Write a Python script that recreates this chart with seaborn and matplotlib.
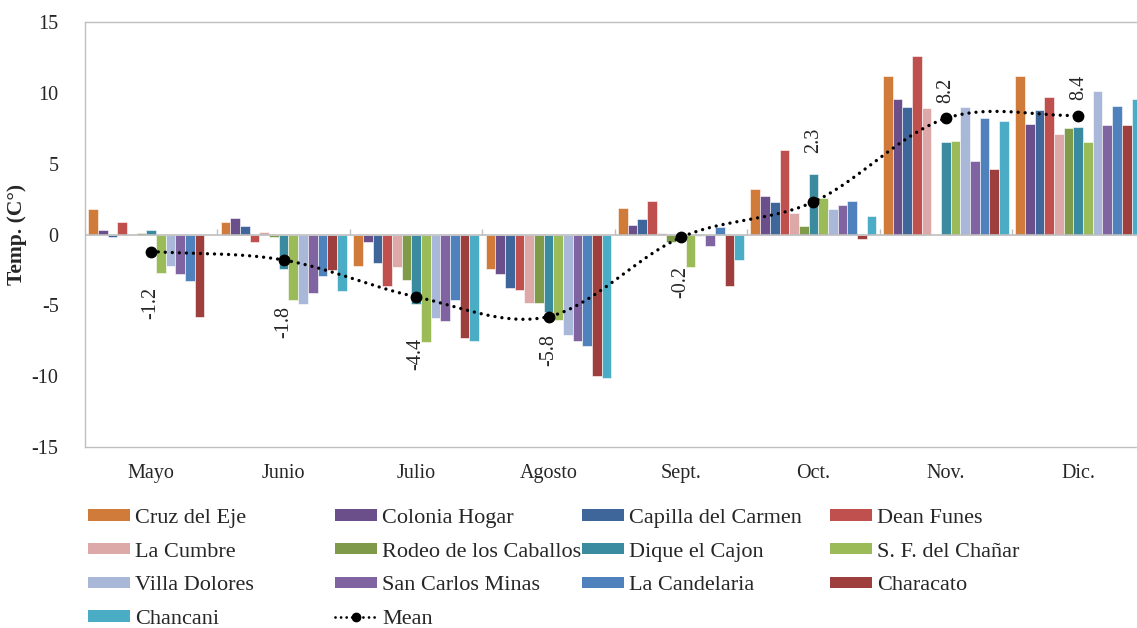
import numpy as np
import pandas as pd
import matplotlib
matplotlib.use("Agg")
import matplotlib.pyplot as plt
import seaborn as sns
from matplotlib.patches import Patch
from matplotlib.lines import Line2D

nan = np.nan

months = ["Mayo", "Junio", "Julio", "Agosto", "Sept.", "Oct.", "Nov.", "Dic."]
stations = ["Cruz del Eje", "Colonia Hogar", "Capilla del Carmen", "Dean Funes",
            "La Cumbre", "Rodeo de los Caballos", "Dique el Cajon", "S. F. del Chañar",
            "Villa Dolores", "San Carlos Minas", "La Candelaria", "Characato", "Chancani"]

cruz_del_eje = [1.8, 0.9, -2.2, -2.4, 1.9, 3.2, 11.2, 11.2]
colonia_hogar = [0.3, 1.2, -0.5, -2.8, 0.7, 2.7, 9.6, 7.8]
capilla_del_carmen = [-0.2, 0.6, -2.0, -3.8, 1.1, 2.3, 9.0, 8.8]
dean_funes = [0.9, -0.5, -3.6, -3.9, 2.4, 6.0, 12.6, 9.7]
la_cumbre = [-0.05, 0.2, -2.3, -4.8, 0.1, 1.5, 8.9, 7.1]
rodeo_de_los_caballos = [0.1, -0.2, -3.2, -4.8, -0.5, 0.6, nan, 7.5]
dique_el_cajon = [0.3, -2.4, -4.9, -5.5, -0.2, 4.3, 6.5, 7.6]
sf_del_chanar = [-2.7, -4.6, -7.6, -6.0, -2.3, 2.6, 6.6, 6.5]
villa_dolores = [-2.2, -4.9, -5.9, -7.1, -0.1, 1.8, 9.0, 10.1]
san_carlos_minas = [-2.8, -4.1, -6.1, -7.5, -0.8, 2.1, 5.2, 7.7]
la_candelaria = [-3.3, -2.9, -4.6, -7.9, 0.5, 2.4, 8.2, 9.1]
characato = [-5.8, -2.5, -7.3, -10.0, -3.6, -0.3, 4.6, 7.7]
chancani = [nan, -4.0, -7.5, -10.1, -1.8, 1.3, 8.0, 9.6]

mean_values = [-1.2, -1.8, -4.4, -5.8, -0.2, 2.3, 8.2, 8.4]

series = [cruz_del_eje, colonia_hogar, capilla_del_carmen, dean_funes, la_cumbre,
          rodeo_de_los_caballos, dique_el_cajon, sf_del_chanar, villa_dolores,
          san_carlos_minas, la_candelaria, characato, chancani]

colors = ["#D07B39", "#6A4F8A", "#3F669A", "#C0504D", "#DDA9A8", "#7F9A48",
          "#3A8AA0", "#9BBB59", "#A9B8D8", "#8064A2", "#4F81BD", "#9E3F3D", "#4BACC6"]

# label offsets (pixels, downward positive) for the mean labels
label_offsets = [51, 62, 57, 33, 45, -62, -28, -28]

rows = []
for st, vals in zip(stations, series):
    for m, v in zip(months, vals):
        rows.append({"month": m, "station": st, "value": v})
df = pd.DataFrame(rows).dropna()

sns.set_style("white")
plt.rcParams["font.family"] = ["Liberation Serif", "DejaVu Serif"]
plt.rcParams["font.size"] = 14

W, H = 1137, 628
fig = plt.figure(figsize=(W / 100, H / 100), dpi=100)
ax = fig.add_axes([85 / W, 181 / H, 1059.5 / W, 425 / H])

sns.barplot(data=df, x="month", y="value", hue="station", order=months,
            hue_order=stations, palette=colors, saturation=1, width=0.95, gap=0,
            errorbar=None, legend=False, edgecolor="white", linewidth=0.4, ax=ax)

ax.set_xlim(-0.5, len(months) - 0.5)
ax.set_ylim(-15, 15)
ax.set_yticks(np.arange(-15, 16, 5))
ax.set_yticklabels([str(v) for v in np.arange(-15, 16, 5)], fontsize=14.5)
ax.tick_params(axis="y", length=0, pad=19)
ax.tick_params(axis="x", length=0, pad=12, labelsize=14.5)
ax.set_xlabel("")
ax.set_ylabel("Temp. (C°)", fontsize=15.5, fontweight="bold")
ax.yaxis.set_label_coords(-58 / 1059.5, 0.5)
for s in ax.spines.values():
    s.set_color("#BFBFBF")
    s.set_linewidth(1)

# zero line with category boundary ticks
ax.axhline(0, color="#BFBFBF", lw=1.2, zorder=1)
bounds = np.arange(-0.5, len(months), 1.0)
ax.vlines(bounds, 0, 0.4, color="#BFBFBF", lw=1, zorder=1)

# smooth mean curve (Catmull-Rom through the mean points)
xp = np.arange(len(mean_values), dtype=float)
yp = np.array(mean_values, dtype=float)
P = np.concatenate([[yp[0]], yp, [yp[-1]]])
cx, cy = [], []
for i in range(len(yp) - 1):
    p0, p1, p2, p3 = P[i], P[i + 1], P[i + 2], P[i + 3]
    m1 = (p2 - p0) / 2 if i > 0 else (p2 - p1)
    m2 = (p3 - p1) / 2 if i < len(yp) - 2 else (p2 - p1)
    t = np.linspace(0, 1, 40)
    h00 = 2 * t**3 - 3 * t**2 + 1
    h10 = t**3 - 2 * t**2 + t
    h01 = -2 * t**3 + 3 * t**2
    h11 = t**3 - t**2
    cy.extend(h00 * p1 + h10 * m1 + h01 * p2 + h11 * m2)
    cx.extend(xp[i] + t)
ax.plot(cx, cy, color="black", lw=2.4, linestyle=(0, (0.01, 2.1)),
        dash_capstyle="round", zorder=5)
ax.plot(xp, yp, "o", color="black", markersize=7.5, zorder=6)

for x, v, off in zip(xp, mean_values, label_offsets):
    ax.annotate(f"{v:.1f}", (x, v), xytext=(0, -off), textcoords="offset pixels",
                rotation=90, ha="center", va="center", fontsize=14.5, zorder=7)

# legend: four columns placed like the reference
handles = [Patch(facecolor=c, edgecolor="none") for c in colors]
mean_handle = Line2D([], [], color="black", lw=2.0, linestyle=(0, (0.01, 2.0)),
                     dash_capstyle="round", marker="o", markersize=6)
all_h = handles + [mean_handle]
all_l = stations + ["Mean"]
col_x = [88, 335, 582, 830]
for c in range(4):
    idx = [i for i in range(len(all_h)) if i % 4 == c]
    fig.legend([all_h[i] for i in idx], [all_l[i] for i in idx],
               loc="upper left", bbox_to_anchor=(col_x[c] / W, 1 - 509 / H),
               frameon=False, fontsize=16, handlelength=1.9, handleheight=0.42,
               handletextpad=0.22, labelspacing=0.66, borderpad=0, borderaxespad=0)

fig.savefig("out.png", dpi=100)
